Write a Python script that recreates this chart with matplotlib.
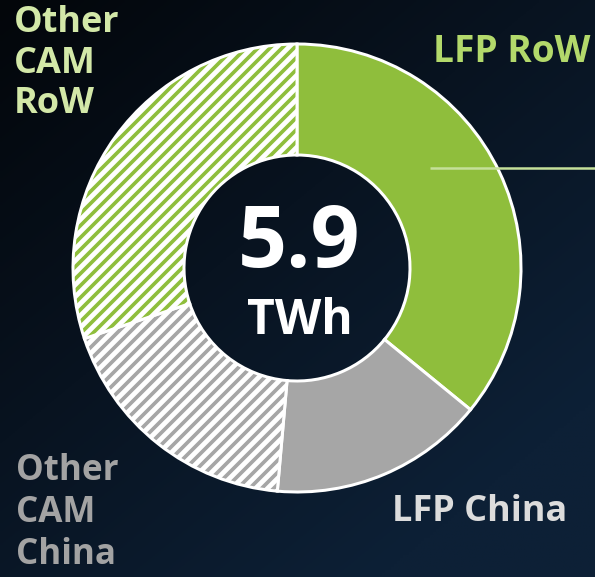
import numpy as np
import matplotlib
matplotlib.use("Agg")
import matplotlib.pyplot as plt

categories = ["LFP RoW", "LFP China", "Other CAM China", "Other CAM RoW"]
shares = [35.9, 15.5, 18.5, 30.1]
total_label = "5.9"
unit_label = "TWh"
year_label = "2035"

plt.rcParams['font.family'] = ['Open Sans', 'DejaVu Sans']
plt.rcParams['hatch.linewidth'] = 4.8

W, H = 595, 577
DPI = 72
fig = plt.figure(figsize=(W / DPI, H / DPI), dpi=DPI)
ax = fig.add_axes([0, 0, 1, 1])

# background gradient
yy, xx = np.mgrid[0:1:200j, 0:1:200j]
t = np.clip(0.55 * xx + 0.65 * (1 - yy), 0, 1)  # yy=0 at bottom (origin lower)
c0 = np.array([0x03, 0x06, 0x0a]) / 255
c1 = np.array([0x0d, 0x20, 0x36]) / 255
img = c0[None, None, :] * (1 - t[..., None]) + c1[None, None, :] * t[..., None]
ax.imshow(img, extent=[0, W, 0, H], origin='lower', zorder=0, aspect='auto')

colors = ["#8fbe3c", "#a6a6a6", "#a6a6a6", "#8fbe3c"]
hatches = [None, None, "//", "//"]
cx, cy = 297, H - 268
R, width = 224, 111
wedges, _ = ax.pie(shares, colors=colors, startangle=90, counterclock=False,
                   center=(cx, cy), radius=R, frame=True,
                   wedgeprops=dict(width=width, edgecolor="white", linewidth=3))
for w, h in zip(wedges, hatches):
    w.set_zorder(2)
    if h:
        w.set_hatch(h)
        try:
            w.set_hatch_linewidth(4.8)
        except Exception:
            pass
ax.set_xlim(0, W)
ax.set_ylim(0, H)
ax.set_aspect('equal')
ax.axis('off')

# leader line
ax.plot([430, 595], [H - 168, H - 168], color="#c5e09a", lw=2.5, zorder=3,
        solid_capstyle='butt')

# center text
ax.text(cx + 2, H - 244, total_label, color="white", fontsize=86, fontweight='bold',
        ha='center', va='center', zorder=4)
ax.text(cx + 3, H - 322, unit_label, color="white", fontsize=48, fontweight='bold',
        ha='center', va='center', zorder=4)

# year title (cut off at top, as in the source)
ax.text(283, H - 3, year_label, color="white", fontsize=36, fontweight='bold',
        ha='center', va='bottom', zorder=4)

# labels
ax.text(14, H - 5, "Other\nCAM\nRoW", color="#d3e8a8", fontsize=36, fontweight='bold',
        ha='left', va='top', linespacing=1.17, zorder=4)
ax.text(590, H - 52, "LFP RoW", color="#b3d96b", fontsize=37, fontweight='bold',
        ha='right', va='center', zorder=4)
ax.text(16, H - 513, "Other\nCAM\nChina", color="#a3a3a3", fontsize=35, fontweight='bold',
        ha='left', va='center', linespacing=1.22, zorder=4)
ax.text(567, H - 512, "LFP China", color="#dcdcdc", fontsize=36, fontweight='bold',
        ha='right', va='center', zorder=4)

fig.savefig("out.png", dpi=DPI)
